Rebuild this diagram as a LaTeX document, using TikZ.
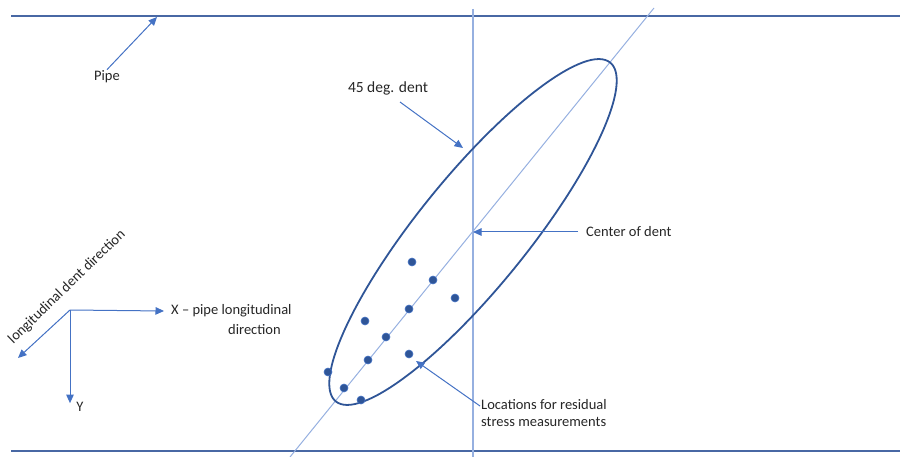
\documentclass[tikz,border=0pt]{standalone}
\usepackage{fontspec}
\setmainfont{Carlito}
\usetikzlibrary{arrows.meta}
\definecolor{pipec}{RGB}{72,104,164}
\definecolor{ellc}{RGB}{47,85,151}
\definecolor{lightc}{RGB}{150,176,224}
\definecolor{arrc}{RGB}{68,114,196}
\definecolor{txtc}{RGB}{38,38,38}
\tikzset{
  pipeline/.style={draw=pipec, line width=2pt},
  thinline/.style={draw=lightc, line width=1pt},
  arr/.style={draw=arrc, line width=1pt, -{Triangle[width=7.5pt,length=8.5pt]}},
  lbl/.style={text=txtc, font=\fontsize{14.5}{17}\selectfont, inner sep=1pt},
  dot/.style={circle, fill=ellc, draw=arrc, line width=0.6pt, minimum size=8pt, inner sep=0pt}
}
\begin{document}
\begin{tikzpicture}[x=1pt,y=-1pt]
\useasboundingbox (0,0) rectangle (900,457);
% pipe walls
\coordinate (tl) at (11,16);
\coordinate (tr) at (900,16);
\coordinate (bl) at (11,451);
\coordinate (br) at (900,451);
\draw[pipeline] (tl) -- (tr);
\draw[pipeline] (bl) -- (br);
% vertical and diagonal lines
\coordinate (vt) at (473,9);
\coordinate (vb) at (473,457);
\draw[draw=lightc, line width=1.5pt] (vt) -- (vb);
\coordinate (dgb) at (290,457);
\coordinate (dgt) at (654,8);
\draw[thinline] (dgb) -- (dgt);
% dent ellipse
\coordinate (cen) at (473,232);
\draw[draw=ellc, line width=1.8pt, shift={(cen)}, rotate=51] (0,0) ellipse [x radius=218pt, y radius=55pt];
% dots
\node[dot] (d1) at (412,262) {};
\node[dot] (d2) at (433,280) {};
\node[dot] (d3) at (455,298) {};
\node[dot] (d4) at (409,309) {};
\node[dot] (d5) at (365,321) {};
\node[dot] (d6) at (386,337) {};
\node[dot] (d7) at (409,354) {};
\node[dot] (d8) at (368,360) {};
\node[dot] (d9) at (328,372) {};
\node[dot] (d10) at (344,388) {};
\node[dot] (d11) at (361,400) {};
% labels
\node[lbl] (pipe) at (107,77) {Pipe};
\coordinate (pipetip) at (157,17);
\draw[arr] (pipe.north) -- (pipetip);
\node[lbl, font=\fontsize{15.5}{18}\selectfont] (t45) at (388,88) {45 deg. dent};
\coordinate (t45tail) at (400,102);
\coordinate (t45tip) at (463,148);
\draw[arr] (t45tail) -- (t45tip);
\node[lbl, anchor=west] (cod) at (585,232) {Center of dent};
\draw[arr] ([xshift=-7pt]cod.west) -- (cen);
\node[lbl, anchor=west, align=left] (loc) at (480,413) {Locations for residual\\stress measurements};
\coordinate (loctail) at (480,406);
\coordinate (loctip) at (416,361);
\draw[arr] (loctail) -- (loctip);
% axes
\coordinate (o) at (70,310);
\node[lbl, anchor=west] (xl) at (170,311) {X -- pipe longitudinal};
\node[lbl, anchor=west] (xl2) at (227,330) {direction};
\draw[arr] (o) -- ([xshift=-6pt]xl.west);
\node[lbl] (yl) at (80,407) {Y};
\draw[arr] (o) -- ([yshift=-2pt]o |- yl.north);
\coordinate (ld) at (18,358);
\draw[arr] (o) -- (ld);
\node[lbl, rotate=44] (ldl) at (67,287) {longitudinal dent direction};
\end{tikzpicture}
\end{document}
